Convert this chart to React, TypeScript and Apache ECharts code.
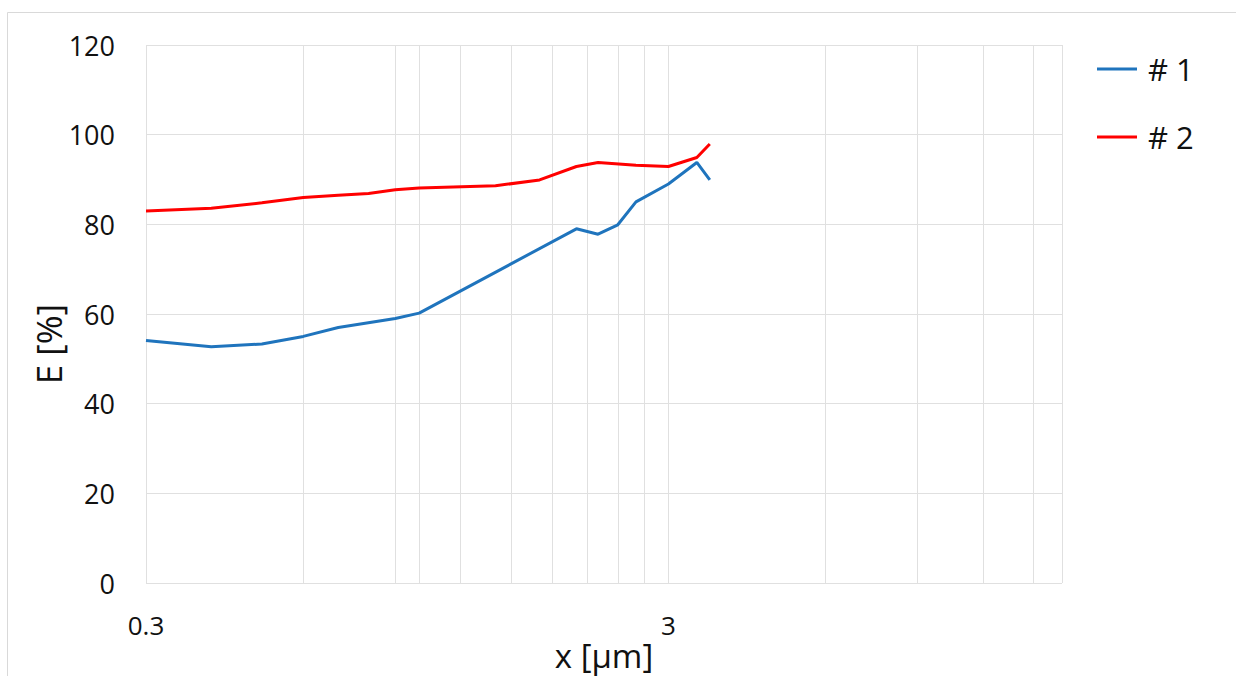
import React, { useEffect, useRef } from 'react';
import * as echarts from 'echarts';

const xValues1 = [0.3, 0.4, 0.5, 0.6, 0.7, 0.9, 1.0, 2.0, 2.2, 2.4, 2.6, 3.0, 3.4, 3.6];
const series1 = [54.1, 52.7, 53.3, 55.0, 57.0, 59.0, 60.2, 79.0, 77.8, 79.9, 85.0, 89.0, 93.8, 89.9];
const xValues2 = [0.3, 0.4, 0.5, 0.6, 0.7, 0.8, 0.9, 1.0, 1.4, 1.7, 2.0, 2.2, 2.6, 3.0, 3.4, 3.6];
const series2 = [83.0, 83.6, 84.8, 86.0, 86.5, 86.9, 87.7, 88.1, 88.6, 89.9, 92.9, 93.8, 93.2, 92.9, 94.9, 97.9];
const seriesNames = ['# 1', '# 2'];
const gridValues = [0.3, 0.6, 0.9, 1.0, 1.2, 1.5, 1.8, 2.1, 2.4, 2.7, 3, 6, 9, 12, 15, 17];
const xLabelValues = [0.3, 3];
const yTicks = [0, 20, 40, 60, 80, 100, 120];

const FONT = '"Open Sans", sans-serif';

export default function App() {
  const ref = useRef<HTMLDivElement>(null);
  useEffect(() => {
    if (!ref.current) return;
    const chart = echarts.init(ref.current, null, { renderer: 'svg' });
    const pair = (xs: number[], ys: number[]) => xs.map((x, i) => [x, ys[i]]);
    chart.setOption({
      animation: false,
      backgroundColor: '#ffffff',
      textStyle: { fontFamily: FONT },
      grid: {
        left: 146,
        right: 174,
        top: 45,
        bottom: 93,
        containLabel: false,
        outerBoundsMode: 'none',
      },
      graphic: [
        {
          type: 'rect',
          shape: { x: 7.5, y: 12.5, width: 1240, height: 700 },
          style: { fill: 'none', stroke: '#d9d9d9', lineWidth: 1 },
          silent: true,
        },
        {
          type: 'text',
          x: 48,
          y: 344,
          rotation: Math.PI / 2,
          style: {
            text: 'E [%]',
            font: `35px ${FONT}`,
            fill: '#111',
            align: 'center',
            verticalAlign: 'middle',
          },
        },
      ],
      legend: {
        data: seriesNames,
        orient: 'vertical',
        left: 1097,
        top: 51,
        padding: 0,
        icon: 'rect',
        itemWidth: 40,
        itemHeight: 3,
        itemGap: 32,
        textStyle: { fontSize: 31, fontFamily: FONT, color: '#111', lineHeight: 36, padding: [0, 0, 0, 6] },
      },
      xAxis: {
        type: 'log',
        logBase: 10,
        min: 0.3,
        max: 17,
        name: 'x [μm]',
        nameLocation: 'middle',
        nameGap: 55,
        nameMoveOverlap: false,
        nameTextStyle: { fontSize: 33, fontFamily: FONT, color: '#111', lineHeight: 34 },
        axisLine: { show: false },
        axisTick: { show: false, customValues: gridValues },
        axisLabel: {
          customValues: xLabelValues,
          margin: 29,
          fontSize: 26,
          fontFamily: FONT,
          color: '#111',
          formatter: (v: number) => String(Math.round(v * 10) / 10),
        },
        splitLine: { show: true, lineStyle: { color: '#e0e0e0', width: 1 } },
      },
      yAxis: {
        type: 'value',
        min: yTicks[0],
        max: yTicks[yTicks.length - 1],
        interval: 20,
        axisLine: { show: false },
        axisTick: { show: false },
        axisLabel: { margin: 31, fontSize: 27, fontFamily: FONT, color: '#111' },
        splitLine: { show: true, lineStyle: { color: '#e0e0e0', width: 1 } },
      },
      series: [
        {
          name: seriesNames[0],
          type: 'line',
          data: pair(xValues1, series1),
          showSymbol: false,
          symbol: 'none',
          lineStyle: { color: '#1f74bd', width: 3 },
          itemStyle: { color: '#1f74bd' },
        },
        {
          name: seriesNames[1],
          type: 'line',
          data: pair(xValues2, series2),
          showSymbol: false,
          symbol: 'none',
          lineStyle: { color: '#ff0000', width: 3 },
          itemStyle: { color: '#ff0000' },
        },
      ],
    });
    return () => chart.dispose();
  }, []);
  return (
    <div
      ref={ref}
      style={{ position: 'fixed', left: 0, top: 0, width: 1236, height: 676 }}
    />
  );
}
